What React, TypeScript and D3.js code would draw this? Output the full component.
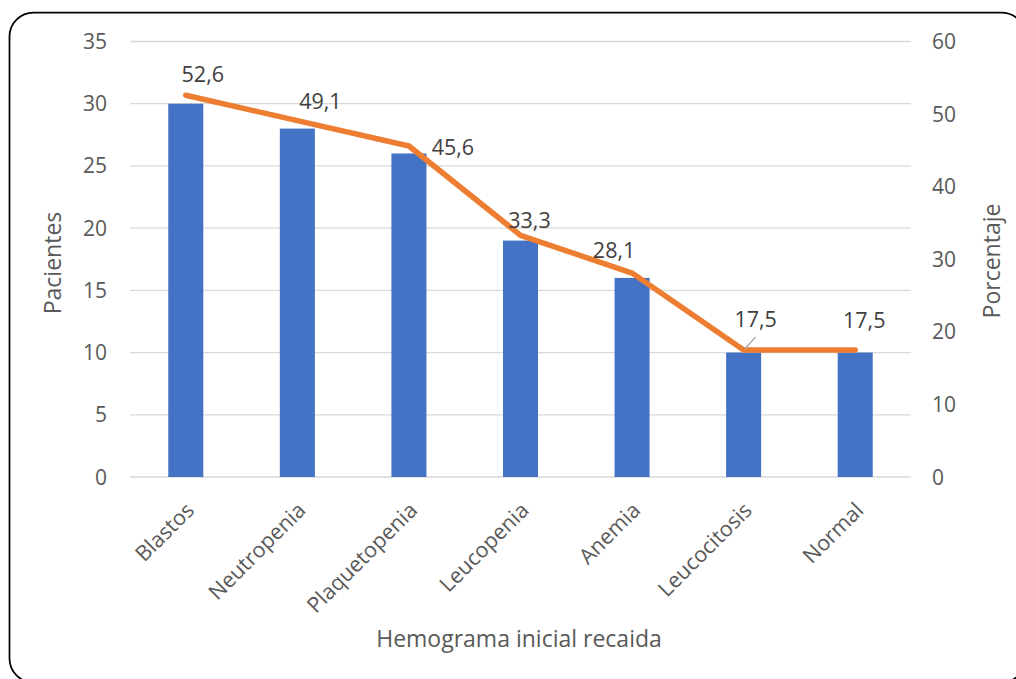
import React from "react";
import * as d3 from "d3";

const categories = ["Blastos", "Neutropenia", "Plaquetopenia", "Leucopenia", "Anemia", "Leucocitosis", "Normal"];
const pacientes = [30, 28, 26, 19, 16, 10, 10];
const porcentaje = [52.6, 49.1, 45.6, 33.3, 28.1, 17.5, 17.5];
const leftTicks = [0, 5, 10, 15, 20, 25, 30, 35];
const rightTicks = [0, 10, 20, 30, 40, 50, 60];
// manual label offsets (dx, dy relative to the line point), as placed in the original
const labelOffsets: [number, number][] = [
  [17, -13], [23, -12], [44, 9], [9, -7], [-18, -15], [12, -23], [9, -22],
];
const leaderLines = [false, false, false, false, false, true, false];

const W = 1016;
const H = 679;
const FONT = "'Open Sans', 'DejaVu Sans', sans-serif";
const TXT = "#595959";

export default function App() {
  const x = d3.scaleBand<string>().domain(categories).range([130, 911]).paddingInner(0.686).paddingOuter(0.343);
  const yL = d3.scaleLinear().domain([0, 35]).range([477, 41.5]);
  const yR = d3.scaleLinear().domain([0, 60]).range([477, 41.5]);
  const cx = (c: string) => (x(c) as number) + x.bandwidth() / 2;
  const line = d3
    .line<number>()
    .x((_, i) => cx(categories[i]))
    .y((d) => yR(d));
  const pathD = line(porcentaje) || "";

  return (
    <svg width={W} height={H} style={{ position: "absolute", left: 0, top: 0, background: "#fff" }} fontFamily={FONT}>
      <rect x={0} y={0} width={W} height={H} fill="#fff" />
      <rect x={9.5} y={12.5} width={1016} height={670} rx={24} ry={24} fill="none" stroke="#000" strokeWidth={1.75} />
      {leftTicks.map((t) => (
        <line key={"g" + t} x1={130} x2={911} y1={yL(t)} y2={yL(t)} stroke="#d9d9d9" strokeWidth={1.3} />
      ))}
      {leftTicks.map((t) => (
        <text key={"l" + t} x={107} y={yL(t)} dy="0.36em" textAnchor="end" fontSize={21} fill={TXT}>
          {t}
        </text>
      ))}
      {rightTicks.map((t) => (
        <text key={"r" + t} x={932} y={yR(t)} dy="0.36em" textAnchor="start" fontSize={21} fill={TXT}>
          {t}
        </text>
      ))}
      {categories.map((c, i) => (
        <rect key={"b" + c} x={x(c)} y={yL(pacientes[i])} width={x.bandwidth()} height={yL(0) - yL(pacientes[i])} fill="#4472C4" />
      ))}
      <path d={pathD} fill="none" stroke="#ED7D31" strokeWidth={5.5} strokeLinejoin="round" strokeLinecap="round" />
      {categories.map((c, i) =>
        leaderLines[i] ? (
          <line
            key={"ll" + c}
            x1={cx(c) + 1}
            y1={yR(porcentaje[i]) - 1}
            x2={cx(c) + labelOffsets[i][0]}
            y2={yR(porcentaje[i]) - 13}
            stroke="#a6a6a6"
            strokeWidth={1.2}
          />
        ) : null
      )}
      {categories.map((c, i) => (
        <text
          key={"dl" + c}
          x={cx(c) + labelOffsets[i][0]}
          y={yR(porcentaje[i]) + labelOffsets[i][1]}
          textAnchor="middle"
          fontSize={21.5}
          fill="#404040"
        >
          {porcentaje[i].toFixed(1).replace(".", ",")}
        </text>
      ))}
      {categories.map((c) => (
        <text
          key={"xl" + c}
          transform={`translate(${cx(c) - 1},${501}) rotate(-45)`}
          textAnchor="end"
          dy="0.7em"
          fontSize={21.5}
          fill={TXT}
        >
          {c}
        </text>
      ))}
      <text transform="translate(61,263) rotate(-90)" textAnchor="middle" fontSize={23} fill={TXT}>
        Pacientes
      </text>
      <text transform="translate(1000,261) rotate(-90)" textAnchor="middle" fontSize={23} fill={TXT}>
        Porcentaje
      </text>
      <text x={519} y={647} textAnchor="middle" fontSize={23} fill={TXT}>
        Hemograma inicial recaida
      </text>
    </svg>
  );
}
